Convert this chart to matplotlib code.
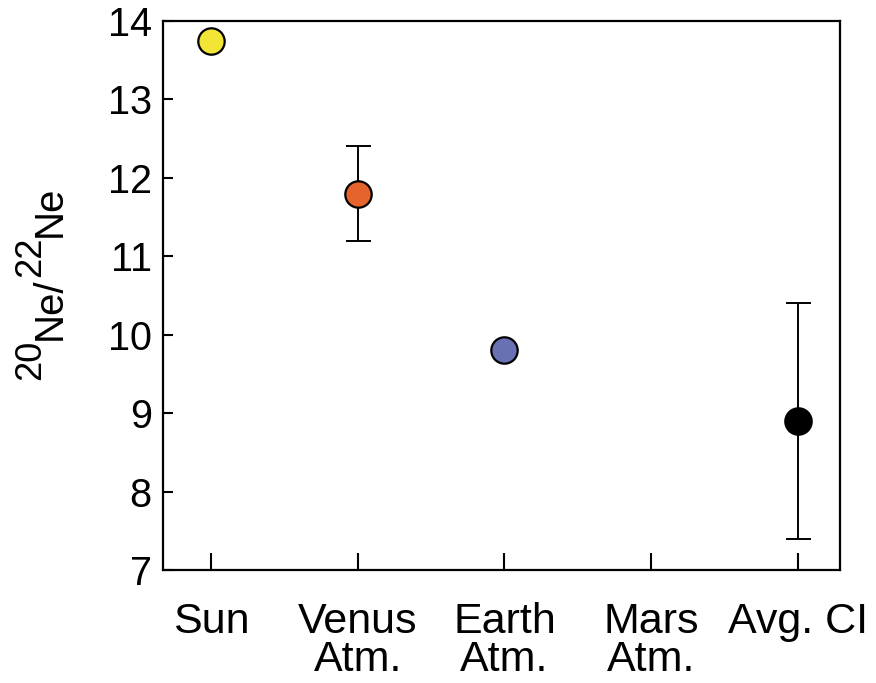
import matplotlib.pyplot as plt

plt.rcParams['font.family'] = ['Liberation Sans', 'DejaVu Sans']

labels = ["Sun", "Venus\nAtm.", "Earth\nAtm.", "Mars\nAtm.", "Avg. CI"]
positions = [0, 1, 2, 3, 4]

# measured points (Mars has no value)
pt_x = [0, 1, 2, 4]
pt_y = [13.75, 11.8, 9.8, 8.9]
pt_err = [0.0, 0.6, 0.0, 1.5]
pt_colors = ["#f2e535", "#e5642c", "#6a70b4", "#000000"]

fig = plt.figure(figsize=(8.76, 6.83), dpi=100)
ax = fig.add_axes([0.186, 0.1654, 0.773, 0.8039])

for x, y, e, c in zip(pt_x, pt_y, pt_err, pt_colors):
    if e > 0:
        ax.errorbar(x, y, yerr=e, fmt="none", ecolor="black",
                    elinewidth=1.4, capsize=9, capthick=1.4, zorder=2)
    ax.plot(x, y, "o", ms=19, mfc=c, mec="black", mew=1.6, zorder=3)

ax.set_xlim(-0.33, 4.29)
ax.set_ylim(7, 14)
ax.set_yticks(range(7, 15))
ax.set_xticks(positions)
ax.set_xticklabels(labels, fontsize=31, linespacing=0.93)
ax.tick_params(axis="y", direction="in", length=7, width=1.5, labelsize=28.5, pad=8)
ax.tick_params(axis="x", direction="in", length=12, width=1.5, pad=23)
for s in ax.spines.values():
    s.set_linewidth(1.6)

# y label built from pieces so superscripts stay large
t1 = ax.annotate("20", xy=(31, 303), xycoords="figure pixels", rotation=90,
                 ha="center", va="bottom", fontsize=26, annotation_clip=False)
t2 = ax.annotate("Ne/", xy=(50, 1.0), xycoords=("figure pixels", t1), rotation=90,
                 ha="center", va="bottom", fontsize=29, annotation_clip=False)
t3 = ax.annotate("22", xy=(31, 1.0), xycoords=("figure pixels", t2), rotation=90,
                 ha="center", va="bottom", fontsize=26, annotation_clip=False)
t4 = ax.annotate("Ne", xy=(50, 1.0), xycoords=("figure pixels", t3), rotation=90,
                 ha="center", va="bottom", fontsize=29, annotation_clip=False)

fig.savefig("out.png", dpi=100)
